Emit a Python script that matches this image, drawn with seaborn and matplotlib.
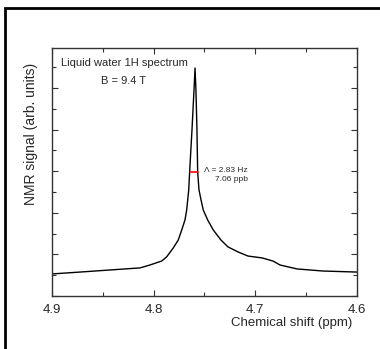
import matplotlib
matplotlib.use("Agg")
import matplotlib.pyplot as plt
from matplotlib.patches import Rectangle
from matplotlib.ticker import MultipleLocator
import seaborn as sns
import pandas as pd

# values
shift_ppm = [4.9000, 4.8725, 4.8430, 4.8134, 4.8036, 4.7921, 4.7872, 4.7807,
             4.7758, 4.7724, 4.7692, 4.7675, 4.7655, 4.7646, 4.7623, 4.7603,
             4.7593, 4.7584, 4.7574, 4.7567, 4.7554, 4.7534, 4.7512, 4.7468,
             4.7413, 4.7338, 4.7269, 4.7171, 4.7072, 4.6934, 4.6826, 4.6757,
             4.6590, 4.6334, 4.6000]
signal = [1.06, 1.15, 1.25, 1.35, 1.49, 1.68, 1.88, 2.31,
          2.69, 3.17, 3.65, 4.13, 5.10, 5.96, 7.98, 9.90,
          10.96, 9.90, 7.98, 5.96, 5.10, 4.62, 4.13, 3.65,
          3.17, 2.69, 2.36, 2.12, 1.92, 1.83, 1.68, 1.49,
          1.30, 1.20, 1.15]

fwhm_left = 4.7646
fwhm_right = 4.7567
half_max = 5.96

x_ticks = [4.9, 4.8, 4.7, 4.6]
x_labels = ["4.9", "4.8", "4.7", "4.6"]

df = pd.DataFrame({"shift": shift_ppm, "signal": signal})

sns.set_style("ticks")
plt.rcParams["font.family"] = ["Liberation Sans", "DejaVu Sans"]

fig = plt.figure(figsize=(3.8, 3.49), dpi=100)
ax = fig.add_axes([0.1368, 0.1519, 0.8026, 0.7106])

# outer frame
fig.patches.append(Rectangle((5 / 380, -0.1), 1.2, 1 - 8 / 349 + 0.1,
                             transform=fig.transFigure, fill=False,
                             edgecolor="black", linewidth=2.0))

sns.lineplot(data=df, x="shift", y="signal", ax=ax, color="black",
             linewidth=1.0, estimator=None, sort=True)
ax.plot([fwhm_left, fwhm_right], [half_max, half_max], color="red", linewidth=1.2)

ax.set_xlim(4.9, 4.6)
ax.set_ylim(0, 11.92)
ax.set_xticks(x_ticks)
ax.set_xticklabels(x_labels, fontsize=9.5)
ax.xaxis.set_minor_locator(MultipleLocator(0.05))
ax.yaxis.set_major_locator(MultipleLocator(2))
ax.yaxis.set_minor_locator(MultipleLocator(1))
ax.set_yticklabels([])
ax.tick_params(which="both", direction="in", top=True, right=True,
               width=0.8, color="#333333", pad=6)
ax.tick_params(which="major", length=4)
ax.tick_params(which="minor", length=3)
for s in ax.spines.values():
    s.set_linewidth(1.0)
    s.set_color("#333333")

ax.set_xlabel("Chemical shift (ppm)", fontsize=9.5)
ax.xaxis.set_label_coords(0.787, -0.085)
ax.set_ylabel("NMR signal (arb. units)", fontsize=10)
ax.yaxis.set_label_coords(-0.045, 0.653)

ax.text(0.236, 0.94, "Liquid water 1H spectrum", transform=ax.transAxes,
        ha="center", va="center", fontsize=8)
ax.text(0.236, 0.867, "B = 9.4 T", transform=ax.transAxes,
        ha="center", va="center", fontsize=8)
ax.text(0.643, 0.508, "\u039b = 2.83 Hz", transform=ax.transAxes,
        ha="right", va="center", fontsize=6)
ax.text(0.643, 0.468, "7.06 ppb", transform=ax.transAxes,
        ha="right", va="center", fontsize=6)

fig.savefig("out.png", dpi=100)
